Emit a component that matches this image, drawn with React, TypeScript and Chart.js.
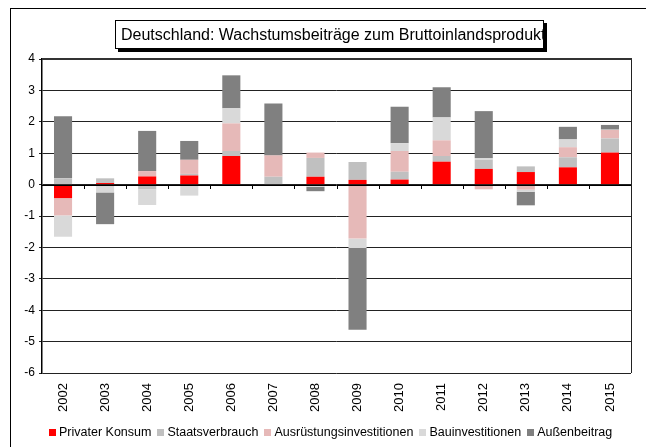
import React, { useEffect, useRef } from "react";
import { Chart, registerables } from "chart.js";

Chart.register(...registerables);

const categories = ["2002", "2003", "2004", "2005", "2006", "2007", "2008", "2009", "2010", "2011", "2012", "2013", "2014", "2015"];
const privaterKonsum = [-0.43, 0.05, 0.26, 0.29, 0.91, -0.02, 0.25, 0.15, 0.16, 0.73, 0.5, 0.4, 0.55, 1.02];
const staatsverbrauch = [0.2, 0.15, -0.15, 0.05, 0.16, 0.25, 0.6, 0.57, 0.25, 0.18, 0.29, 0.18, 0.32, 0.45];
const ausruestungsinvestitionen = [-0.55, 0, 0.17, 0.45, 0.88, 0.68, 0.17, -1.72, 0.66, 0.5, -0.15, -0.16, 0.32, 0.27];
const bauinvestitionen = [-0.68, -0.25, -0.5, -0.35, 0.48, 0, -0.07, -0.3, 0.25, 0.73, 0.05, -0.07, 0.25, 0.01];
const aussenbeitrag = [1.98, -1.01, 1.28, 0.6, 1.05, 1.65, -0.14, -2.6, 1.16, 0.96, 1.5, -0.43, 0.4, 0.15];

const seriesNames = ["Privater Konsum", "Staatsverbrauch", "Ausrüstungsinvestitionen", "Bauinvestitionen", "Außenbeitrag"];
const seriesColors = ["#ff0000", "#c0c0c0", "#e6b9b8", "#d9d9d9", "#808080"];
const titleText = "Deutschland: Wachstumsbeiträge zum Bruttoinlandsprodukt";
const yMin = -6;
const yMax = 4;

const FONT = "'Liberation Sans', Arial, sans-serif";

const framePlugin = {
  id: "framePlugin",
  afterDatasetsDraw(chart: any) {
    const { ctx, chartArea, scales } = chart;
    const y0 = scales.y.getPixelForValue(0);
    const n = categories.length;
    const w = (chartArea.right - chartArea.left) / n;
    ctx.save();
    ctx.strokeStyle = "#000";
    ctx.lineWidth = 1;
    ctx.beginPath();
    ctx.moveTo(chartArea.left, Math.round(y0) + 0.5);
    ctx.lineTo(chartArea.right, Math.round(y0) + 0.5);
    for (let i = 1; i <= n; i++) {
      const x = Math.round(chartArea.left + w * i) + 0.5;
      ctx.moveTo(x, Math.round(y0));
      ctx.lineTo(x, Math.round(y0) + 4);
    }
    ctx.stroke();
    ctx.strokeStyle = "#222";
    ctx.lineWidth = 1;
    ctx.beginPath();
    ctx.moveTo(Math.round(chartArea.right) + 0.5, chartArea.top);
    ctx.lineTo(Math.round(chartArea.right) + 0.5, chartArea.bottom);
    ctx.stroke();
    ctx.strokeStyle = "#333";
    ctx.lineWidth = 2;
    ctx.beginPath();
    ctx.moveTo(chartArea.left, Math.round(chartArea.top));
    ctx.lineTo(chartArea.right + 1, Math.round(chartArea.top));
    ctx.stroke();
    ctx.restore();
  },
};

export default function App() {
  const ref = useRef<HTMLCanvasElement | null>(null);
  useEffect(() => {
    if (!ref.current) return;
    const dataArrays = [privaterKonsum, staatsverbrauch, ausruestungsinvestitionen, bauinvestitionen, aussenbeitrag];
    const chart = new Chart(ref.current, {
      type: "bar",
      data: {
        labels: categories,
        datasets: dataArrays.map((d, i) => ({
          label: seriesNames[i],
          data: d,
          backgroundColor: seriesColors[i],
          borderWidth: 0,
          barPercentage: 0.43,
          categoryPercentage: 1,
        })),
      },
      options: {
        animation: false,
        responsive: false,
        maintainAspectRatio: false,
        layout: { padding: { left: 0, right: 15, top: 51, bottom: 28 } },
        plugins: {
          legend: { display: false },
          title: { display: false },
          tooltip: { enabled: false },
        },
        scales: {
          x: {
            stacked: true,
            grid: { display: false, drawTicks: false },
            border: { display: false },
            ticks: {
              color: "#000",
              minRotation: 90,
              maxRotation: 90,
              padding: 10,
              font: { family: FONT, size: 13 },
            },
            afterFit(scale: any) {
              scale.height = 46;
            },
          },
          y: {
            stacked: true,
            min: yMin,
            max: yMax,
            ticks: {
              stepSize: 1,
              color: "#000",
              padding: 4,
              font: { family: FONT, size: 12 },
            },
            grid: { color: "#222", lineWidth: 1, tickLength: 3, drawTicks: true },
            border: { display: true, color: "#000", width: 1.5 },
            afterFit(scale: any) {
              scale.width = 34;
            },
          },
        },
      },
      plugins: [framePlugin],
    });
    return () => chart.destroy();
  }, []);

  return (
    <div style={{ position: "relative", width: 638, height: 439, overflow: "hidden" }}>
      <div
        style={{
          position: "absolute",
          left: 2,
          top: 0,
          width: 637,
          height: 445,
          border: "1px solid #000",
          boxSizing: "border-box",
        }}
      />
      <canvas ref={ref} width={638} height={439} style={{ position: "absolute", left: 0, top: 0, width: 638, height: 439 }} />
      <div
        style={{
          position: "absolute",
          left: 107,
          top: 12,
          width: 429,
          height: 29,
          boxSizing: "border-box",
          border: "1px solid #000",
          background: "#fff",
          boxShadow: "3px 3px 0 #000",
          overflow: "hidden",
          whiteSpace: "nowrap",
          fontFamily: FONT,
          fontSize: 16,
          lineHeight: "27px",
          paddingLeft: 5,
          color: "#000",
        }}
      >
        {titleText}
      </div>
      <div
        style={{
          position: "absolute",
          left: 41,
          top: 416,
          display: "flex",
          alignItems: "center",
          whiteSpace: "nowrap",
          fontFamily: FONT,
          fontSize: 12.5,
          lineHeight: "16px",
          color: "#000",
        }}
      >
        {seriesNames.map((name, i) => (
          <span key={name} style={{ display: "flex", alignItems: "center", marginRight: 6 }}>
            <span style={{ display: "inline-block", width: 7, height: 7, background: seriesColors[i], marginRight: 3 }} />
            <span>{name}</span>
          </span>
        ))}
      </div>
    </div>
  );
}
